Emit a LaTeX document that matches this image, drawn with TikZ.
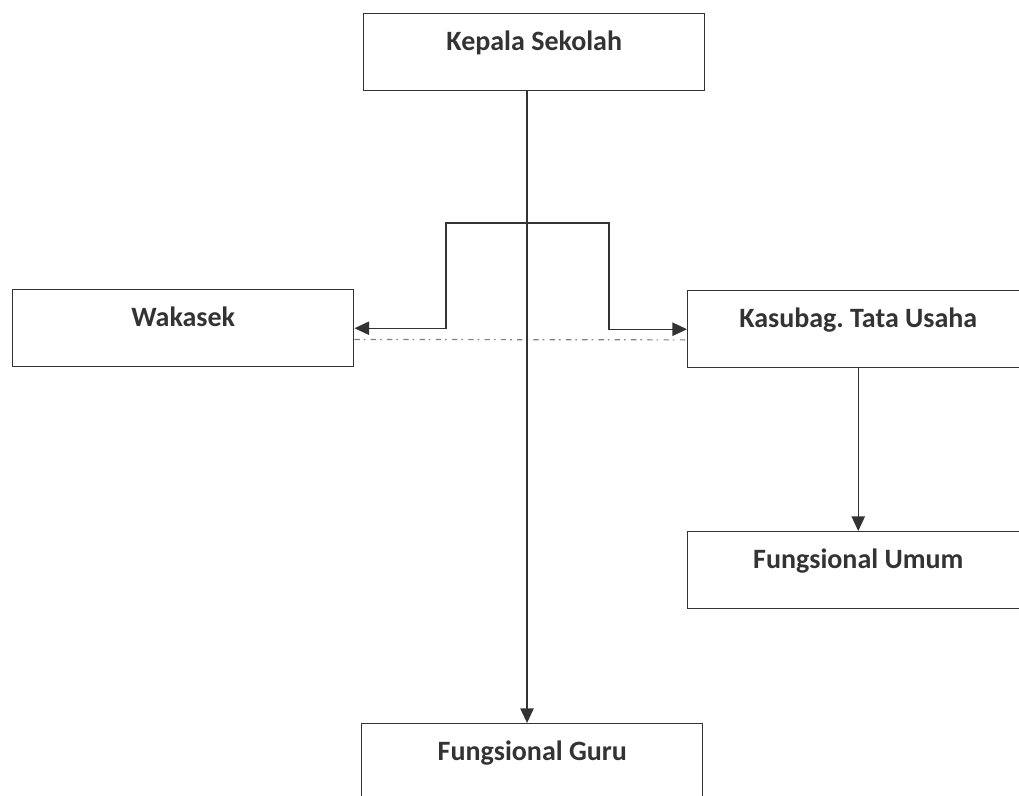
\documentclass[tikz,border=0pt]{standalone}
\usepackage{fontspec}
\setmainfont{Carlito}
\usetikzlibrary{arrows.meta}
\definecolor{ink}{gray}{0.2}

\begin{document}
\begin{tikzpicture}[x=0.75pt, y=-0.75pt,
    unit/.style={draw=ink, line width=1.1pt, anchor=north west, minimum width=255.75pt,
        inner ysep=0pt, text height=27.75pt, text depth=30pt,
        font=\fontsize{21}{24}\selectfont\bfseries, text=ink},
    link/.style={draw=ink, line width=1.1pt},
    tip/.style={-{Triangle[length=11pt, width=10pt]}},
    dashdot/.style={draw=gray, line width=0.9pt, dash pattern=on 4pt off 3pt on 1.2pt off 4pt}]

\useasboundingbox (0,0) rectangle (1019,795);

\node[unit] (kepala) at (363,13) {Kepala Sekolah};
\node[unit] (wakasek) at (12,289) {Wakasek};
\node[unit] (tu) at (687,290) {Kasubag.\ Tata Usaha};
\node[unit] (umum) at (687,531) {Fungsional Umum};
\node[unit] (guru) at (361,723) {Fungsional Guru};

% staff line
\draw[dashdot] ([yshift=-8.4pt]wakasek.east) -- ([yshift=-8pt]tu.west);

% command line
\draw[link, tip] ([xshift=-5.4pt]kepala.south) -- ([xshift=-5.4pt]kepala.south |- guru.north);

\coordinate (bl) at (446,223);
\coordinate (br) at (609,223);
\draw[link, {Triangle[length=11pt, width=10pt]}-{Triangle[length=11pt, width=10pt]}]
    (wakasek.east) -| (bl) -- (br) |- (tu.west);

\draw[link, tip] (tu.south) -- (umum.north);

\end{tikzpicture}
\end{document}
